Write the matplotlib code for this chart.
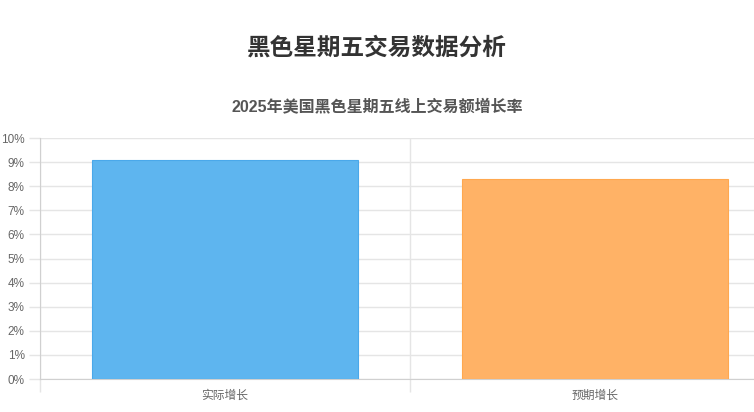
import matplotlib
matplotlib.use("Agg")
import matplotlib.pyplot as plt
from matplotlib.ticker import FuncFormatter, MultipleLocator

plt.rcParams['font.family'] = ['Liberation Sans', 'Noto Sans CJK SC', 'DejaVu Sans']

categories = ['实际增长', '预期增长']
values = [9.1, 8.3]
fill_colors = ['#5EB5EF', '#FFB266']
edge_colors = ['#4AA8EA', '#FFA84F']
title = '黑色星期五交易数据分析'
subtitle = '2025年美国黑色星期五线上交易额增长率'

W, H = 754, 412
fig = plt.figure(figsize=(W / 100, H / 100), dpi=100)
left, right, top, bottom = 40, 754, 138, 379
ax = fig.add_axes([left / W, 1 - bottom / H, (right - left) / W, (bottom - top) / H])

x = list(range(len(categories)))
ax.bar(x, values, width=0.72, color=fill_colors, edgecolor=edge_colors, linewidth=0.8, zorder=3)

ax.set_ylim(0, 10)
ax.set_xlim(-0.5, -0.5 + (right - left) / 370)
ax.yaxis.set_major_locator(MultipleLocator(1))
ax.yaxis.set_major_formatter(FuncFormatter(lambda v, p: f'{int(v)}%'))
ax.set_xticks(x)
ax.set_xticklabels(categories)
ax.set_xticks([-0.5, 0.5], minor=True)

grid_c = '#e5e5e5'
ax.grid(axis='y', which='major', color=grid_c, linewidth=1, zorder=0)
ax.grid(axis='x', which='minor', color=grid_c, linewidth=1, zorder=0)
ax.tick_params(axis='x', which='major', length=0, labelsize=8.5, labelcolor='#666666', pad=8)
ax.tick_params(axis='x', which='minor', length=9, color=grid_c, width=1)
ax.tick_params(axis='y', length=8, color=grid_c, width=1, labelsize=8.5, labelcolor='#666666', pad=3)

for s in ['top', 'right']:
    ax.spines[s].set_visible(False)
ax.spines['left'].set_color('#d0d0d0')
ax.spines['bottom'].set_color('#d0d0d0')

fig.text(0.5, 1 - 48 / H, title, ha='center', va='center', fontsize=17, fontweight='bold', color='#333333')
fig.text(0.5, 1 - 106 / H, subtitle, ha='center', va='center', fontsize=11.5, fontweight='bold', color='#555555')

fig.savefig('out.png', dpi=100)
